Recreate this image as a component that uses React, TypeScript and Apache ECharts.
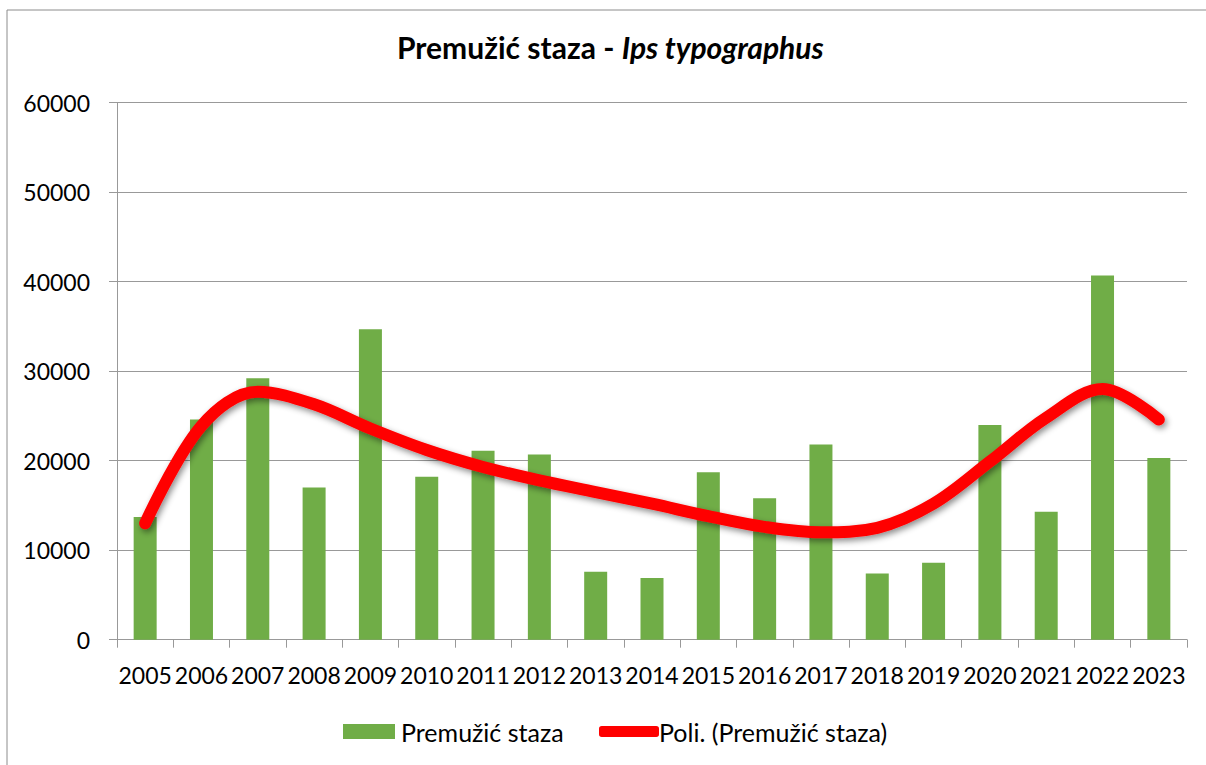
import React, { useEffect, useRef } from "react";
import * as echarts from "echarts";

const years = ["2005","2006","2007","2008","2009","2010","2011","2012","2013","2014","2015","2016","2017","2018","2019","2020","2021","2022","2023"];
const barValues = [13700,24600,29200,17000,34700,18200,21100,20700,7600,6900,18700,15800,21800,7400,8600,24000,14300,40700,20300];
const trendValues = [13000,23900,27700,26300,23600,21200,19300,17800,16500,15200,13800,12600,12000,12500,15200,19900,24800,28000,24600];
const barName = "Premužić staza";
const trendName = "Poli. (Premužić staza)";
const FONT = "Lato";

export default function App() {
  const ref = useRef<HTMLDivElement>(null);
  useEffect(() => {
    if (!ref.current) return;
    const chart = echarts.init(ref.current, null, { renderer: "svg" });
    chart.setOption({
      animation: false,
      backgroundColor: "#ffffff",
      title: {
        text: "{a|Premužić staza - }{b|Ips typographus}",
        left: 397,
        top: 32,
        padding: 0,
        textStyle: {
          rich: {
            a: { fontFamily: FONT, fontWeight: "bold", fontSize: 30, color: "#000" },
            b: { fontFamily: FONT, fontWeight: "bold", fontStyle: "italic", fontSize: 30, color: "#000" },
          },
        },
      },
      legend: [
        {
          data: [{ name: barName, icon: "rect" }],
          left: 343,
          top: 719,
          padding: 0,
          itemWidth: 52,
          itemHeight: 15,
          itemGap: 0,
          textStyle: { fontFamily: FONT, fontSize: 25, color: "#000", padding: [0, 0, 0, 1] },
        },
        {
          data: [{ name: trendName, icon: "roundRect", itemStyle: { color: "#ff0000", borderWidth: 0 } }],
          left: 599,
          top: 719,
          padding: 0,
          itemWidth: 60,
          itemHeight: 11,
          itemGap: 0,
          textStyle: { fontFamily: FONT, fontSize: 25, color: "#000", padding: [0, 0, 0, -5] },
        },
      ],
      grid: { left: 117, right: 19, top: 102.7, bottom: 125.3, containLabel: false },
      xAxis: {
        type: "category",
        data: years,
        boundaryGap: true,
        axisLine: { show: true, lineStyle: { color: "#999", width: 1 } },
        axisTick: { show: true, length: 8, alignWithLabel: false, lineStyle: { color: "#999" } },
        axisLabel: { interval: 0, margin: 24, fontFamily: FONT, fontSize: 23, color: "#000" },
        splitLine: { show: false },
      },
      yAxis: {
        type: "value",
        min: 0,
        max: 60000,
        interval: 10000,
        axisLine: { show: true, lineStyle: { color: "#999", width: 1 } },
        axisTick: { show: true, length: 8, lineStyle: { color: "#999" } },
        axisLabel: {
          margin: 27,
          fontFamily: FONT,
          fontSize: 23,
          color: "#000",
          formatter: (v: number) => String(v),
        },
        splitLine: { show: true, lineStyle: { color: "#999", width: 1 } },
      },
      series: [
        {
          name: barName,
          type: "bar",
          data: barValues,
          barWidth: 23,
          itemStyle: { color: "#70ad47" },
          z: 2,
        },
        {
          name: trendName,
          type: "line",
          data: trendValues,
          smooth: 0.35,
          symbol: "none",
          color: "#ff0000",
          lineStyle: {
            color: "#ff0000",
            width: 12,
            cap: "round",
            join: "round",
            shadowColor: "rgba(0,0,0,0.45)",
            shadowBlur: 6,
            shadowOffsetX: 2,
            shadowOffsetY: 3,
          },
          z: 3,
        },
      ],
      graphic: [
        {
          type: "rect",
          shape: { x: 7, y: 10, width: 1300, height: 900 },
          style: { fill: "none", stroke: "#8c8c8c", lineWidth: 1 },
          silent: true,
        },
      ],
    });
    return () => chart.dispose();
  }, []);
  return (
    <div
      ref={ref}
      style={{ position: "absolute", left: 0, top: 0, width: 1206, height: 765 }}
    />
  );
}
